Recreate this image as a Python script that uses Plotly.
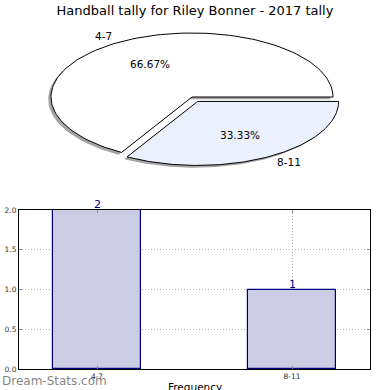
import numpy as np
import plotly.graph_objects as go

title = "Handball tally for Riley Bonner - 2017 tally"
categories = ["4-7", "8-11"]
counts = [2, 1]
x_title = "Frequency"
pie_colors = ["#FFFFFF", "#EAF0FC"]
bar_fill = "rgba(204,204,229,1)"
bar_edge = "#00007F"

W = H = 390
fig = go.Figure()

# ---- elliptical pie built from the counts ----
total = float(sum(counts))
fracs = [c / total for c in counts]
explode = [0.0, 0.08]
shadow_dx, shadow_dy = -0.02, -0.035

def wedge(t1, t2, cx, cy):
    t = np.linspace(np.radians(t1), np.radians(t2), 120)
    xs = np.concatenate([[cx], cx + np.cos(t), [cx]])
    ys = np.concatenate([[cy], cy + np.sin(t), [cy]])
    return xs, ys

angles = []
start = 0.0
for f in fracs:
    angles.append((start, start + 360 * f))
    start += 360 * f

# shadows
for (t1, t2), e in zip(angles, explode):
    mid = np.radians((t1 + t2) / 2)
    cx, cy = e * np.cos(mid), e * np.sin(mid)
    xs, ys = wedge(t1, t2, cx + shadow_dx, cy + shadow_dy)
    fig.add_trace(go.Scatter(x=xs, y=ys, xaxis="x2", yaxis="y2", mode="lines",
                             fill="toself", fillcolor="rgba(90,90,90,0.55)",
                             line=dict(width=0), hoverinfo="skip", showlegend=False))
# wedges
for (t1, t2), e, col, cat, f in zip(angles, explode, pie_colors, categories, fracs):
    mid = np.radians((t1 + t2) / 2)
    cx, cy = e * np.cos(mid), e * np.sin(mid)
    xs, ys = wedge(t1, t2, cx, cy)
    fig.add_trace(go.Scatter(x=xs, y=ys, xaxis="x2", yaxis="y2", mode="lines",
                             fill="toself", fillcolor=col,
                             line=dict(color="black", width=1), hoverinfo="skip",
                             showlegend=False))
    lx, ly = cx + 1.1 * np.cos(mid), cy + 1.1 * np.sin(mid)
    fig.add_annotation(x=lx, y=ly, xref="x2", yref="y2", text=cat, showarrow=False,
                       xanchor="right" if np.cos(mid) < 0 else "left", yanchor="middle",
                       font=dict(family="DejaVu Sans", size=10.5, color="black"))
    px_, py_ = cx + 0.6 * np.cos(mid), cy + 0.6 * np.sin(mid)
    fig.add_annotation(x=px_, y=py_, xref="x2", yref="y2", text=f"{f*100:.2f}%",
                       showarrow=False, xanchor="center", yanchor="middle",
                       font=dict(family="DejaVu Sans", size=10.5, color="black"))

# ---- bar chart ----
fig.add_trace(go.Bar(x=categories, y=counts, width=0.45,
                     marker=dict(color=bar_fill, line=dict(color=bar_edge, width=1.2)),
                     hoverinfo="skip", showlegend=False))
for cat, c in zip(categories, counts):
    fig.add_annotation(x=cat, y=c, xref="x", yref="y", text=str(c), showarrow=False,
                       xanchor="center", yanchor="bottom", yshift=-3,
                       font=dict(family="DejaVu Sans", size=11, color=bar_edge))

cx0, cy0, rx, ry = 192, 97, 141, 64
fig.update_layout(
    width=W, height=H, margin=dict(l=0, r=0, t=0, b=0, autoexpand=False),
    paper_bgcolor="white", plot_bgcolor="white",
    title=dict(text=title, x=0.5, xanchor="center", y=1 - 10 / H, yanchor="middle",
               font=dict(family="DejaVu Sans", size=13, color="black")),
    xaxis=dict(domain=[19 / W, 370 / W], range=[-0.4, 1.4], type="category",
               automargin=False,
               showline=True, linecolor="black", linewidth=1, mirror="ticks",
               ticks="inside", ticklen=3, tickcolor="#888",
               showgrid=True, gridcolor="#b0b0b0", griddash="1px,2px", gridwidth=1,
               tickfont=dict(family="DejaVu Sans", size=7.5, color="#333"),
               zeroline=False),
    yaxis=dict(domain=[(H - 369) / H, (H - 210) / H], range=[0, 2], dtick=0.5,
               tickformat=".1f", automargin=False,
               showline=True, linecolor="black", linewidth=1, mirror="ticks",
               ticks="inside", ticklen=3, tickcolor="#888",
               showgrid=True, gridcolor="#b0b0b0", griddash="1px,2px", gridwidth=1,
               tickfont=dict(family="DejaVu Sans", size=7.5, color="#333"),
               zeroline=False),
    xaxis2=dict(domain=[0, 1], range=[-cx0 / rx, (W - cx0) / rx], visible=False,
                anchor="y2", fixedrange=True, automargin=False),
    yaxis2=dict(domain=[0.5, 1], range=[-(195 - cy0) / ry, cy0 / ry], visible=False,
                anchor="x2", fixedrange=True, automargin=False),
    bargap=0,
)

fig.add_annotation(x=(19 + 370) / 2 / W, y=(H - 386.5) / H, xref="paper", yref="paper",
                   text=x_title, showarrow=False, xanchor="center", yanchor="middle",
                   font=dict(family="DejaVu Sans", size=10.5, color="black"))

fig.add_annotation(x=0, y=(H - 381) / H, xref="paper", yref="paper", text="Dream-Stats.com",
                   showarrow=False, xanchor="left", yanchor="middle",
                   font=dict(family="DejaVu Sans", size=12, color="rgba(110,110,110,0.85)"))

fig.write_html("out.html", config={"displayModeBar": False},
               post_script="document.body.style.margin='0';document.body.style.padding='0';")
